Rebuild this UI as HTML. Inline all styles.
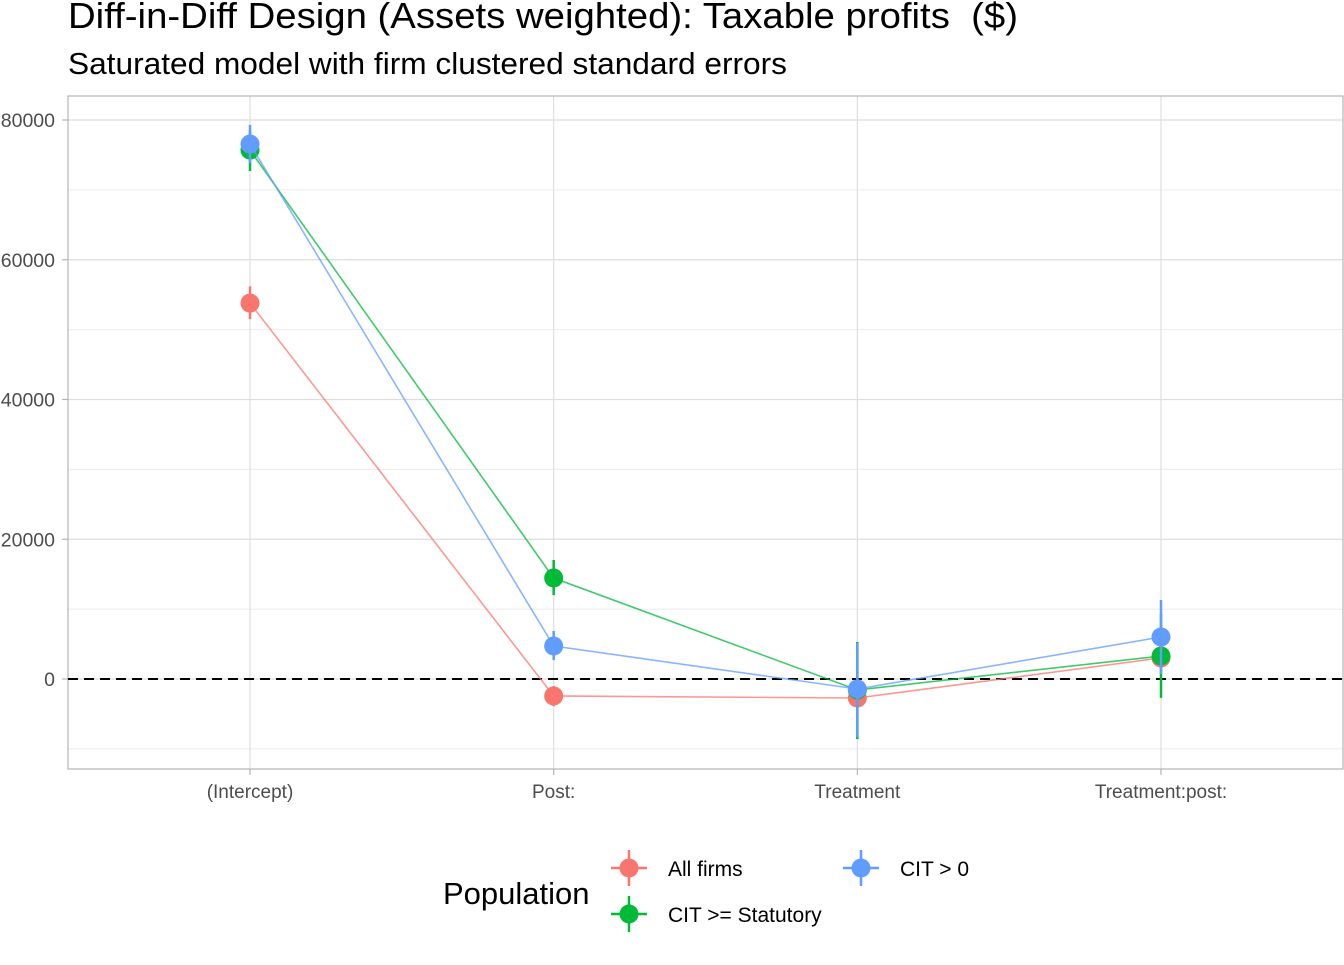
<!DOCTYPE html>
<html><head><meta charset="utf-8"><style>
body{margin:0;background:#fff;}
svg text{font-family:"Liberation Sans",Arial,sans-serif;}
</style></head><body>
<svg id="chart" width="1344" height="960" viewBox="0 0 1344 960">
<text x="68" y="28" font-size="36" fill="#000" textLength="950" lengthAdjust="spacingAndGlyphs">Diff-in-Diff Design (Assets weighted): Taxable profits&#160; ($)</text>
<text x="68" y="74" font-size="31" fill="#000" textLength="719" lengthAdjust="spacingAndGlyphs">Saturated model with firm clustered standard errors</text>
<g id="grid"></g>
<g id="axes"></g>
<g id="marks"></g>
<g id="legend">
<text x="443" y="904" font-size="31" fill="#000">Population</text>
</g>
</svg>
<script>
const categories = ["(Intercept)", "Post:", "Treatment", "Treatment:post:"];
const seriesNames = ["All firms", "CIT >= Statutory", "CIT > 0"];
const allEst = [53800, -2430, -2720, 3010];
const allLo = [51500, -3870, -4000, 2000];
const allHi = [56200, -1000, -1500, 4000];
const citStatEst = [75700, 14450, -1570, 3290];
const citStatLo = [72700, 12000, -8600, -2700];
const citStatHi = [78500, 17030, 5300, 9300];
const citPosEst = [76560, 4720, -1430, 6010];
const citPosLo = [73800, 2700, -8300, 700];
const citPosHi = [79300, 6870, 5150, 11300];
const yTicks = [0, 20000, 40000, 60000, 80000];
const yMinor = [-10000, 10000, 30000, 50000, 70000];

const NS = "http://www.w3.org/2000/svg";
const L = 68, R = 1343, T = 96, B = 769;
function y(v){ return 679 - v * (559/80000); }
function x(i){ return 250 + i * 303.67; }
function mk(tag, attrs, parent){ const e = document.createElementNS(NS, tag); for (const k in attrs) e.setAttribute(k, attrs[k]); parent.appendChild(e); return e; }
const grid = document.getElementById('grid'), axes = document.getElementById('axes'), marks = document.getElementById('marks'), legend = document.getElementById('legend');

yMinor.forEach(v => {
  const l = mk('line', {x1:L, x2:R, y1:y(v), y2:y(v), stroke:'#ebebeb', 'stroke-width':1}, grid);
  
  
});
yTicks.forEach(v => {
  const l = mk('line', {x1:L, x2:R, y1:y(v), y2:y(v), stroke:'#dedede', 'stroke-width':1.2}, grid);
  
  
  const t = mk('line', {x1:62, x2:L, y1:y(v), y2:y(v), stroke:'#b3b3b3', 'stroke-width':1.2}, axes);
  
  
  const tx = mk('text', {x:55, y:y(v)+7, 'font-size':19.5, fill:'#4d4d4d', 'text-anchor':'end'}, axes);
  tx.textContent = v;
  
  
});
categories.forEach((c, i) => {
  const l = mk('line', {x1:x(i), x2:x(i), y1:T, y2:B, stroke:'#dedede', 'stroke-width':1.2}, grid);
  
  
  const t = mk('line', {x1:x(i), x2:x(i), y1:B, y2:B+6, stroke:'#b3b3b3', 'stroke-width':1.2}, axes);
  
  
  const tx = mk('text', {x:x(i), y:798, 'font-size':19, fill:'#4d4d4d', 'text-anchor':'middle'}, axes);
  tx.textContent = c;
  
  
});
const border = mk('rect', {x:L, y:T, width:R-L, height:B-T, fill:'none', stroke:'#b3b3b3', 'stroke-width':1.2}, axes);


const zl = mk('line', {x1:L, x2:R, y1:y(0), y2:y(0), stroke:'#000', 'stroke-width':2, 'stroke-dasharray':'10,6'}, marks);



const series = [
  {name:'all-firms', color:'#F8766D', est:allEst, lo:allLo, hi:allHi},
  {name:'cit-statutory', color:'#00BA38', est:citStatEst, lo:citStatLo, hi:citStatHi},
  {name:'cit-positive', color:'#619CFF', est:citPosEst, lo:citPosLo, hi:citPosHi}
];
series.forEach(s => {
  const g = mk('g', {}, marks);
  
  
  const pl = mk('polyline', {points: s.est.map((v,i)=>x(i)+','+y(v)).join(' '), fill:'none', stroke:s.color, 'stroke-opacity':0.75, 'stroke-width':1.6}, g);
  
  
  s.est.forEach((v, i) => {
    const eb = mk('line', {x1:x(i), x2:x(i), y1:y(s.lo[i]), y2:y(s.hi[i]), stroke:s.color, 'stroke-width':2.5}, g);
    
    
    const c = mk('circle', {cx:x(i), cy:y(v), r:9.5, fill:s.color}, g);
    
    
  });
});

const legPos = [[629, 868, 668], [629, 914, 668], [861, 868, 900]];
series.forEach((s, k) => {
  const [cx, cy, tx] = legPos[k];
  const g = mk('g', {}, legend);
  
  
  mk('line', {x1:cx, x2:cx, y1:cy-18, y2:cy+18, stroke:s.color, 'stroke-width':2.5}, g);
  mk('line', {x1:cx-18, x2:cx+18, y1:cy, y2:cy, stroke:s.color, 'stroke-width':2.5}, g);
  mk('circle', {cx:cx, cy:cy, r:9.5, fill:s.color}, g);
  const t = mk('text', {x:tx, y:cy+8, 'font-size':21, fill:'#000'}, g);
  t.textContent = seriesNames[k];
  
  
});
</script>
</body></html>
